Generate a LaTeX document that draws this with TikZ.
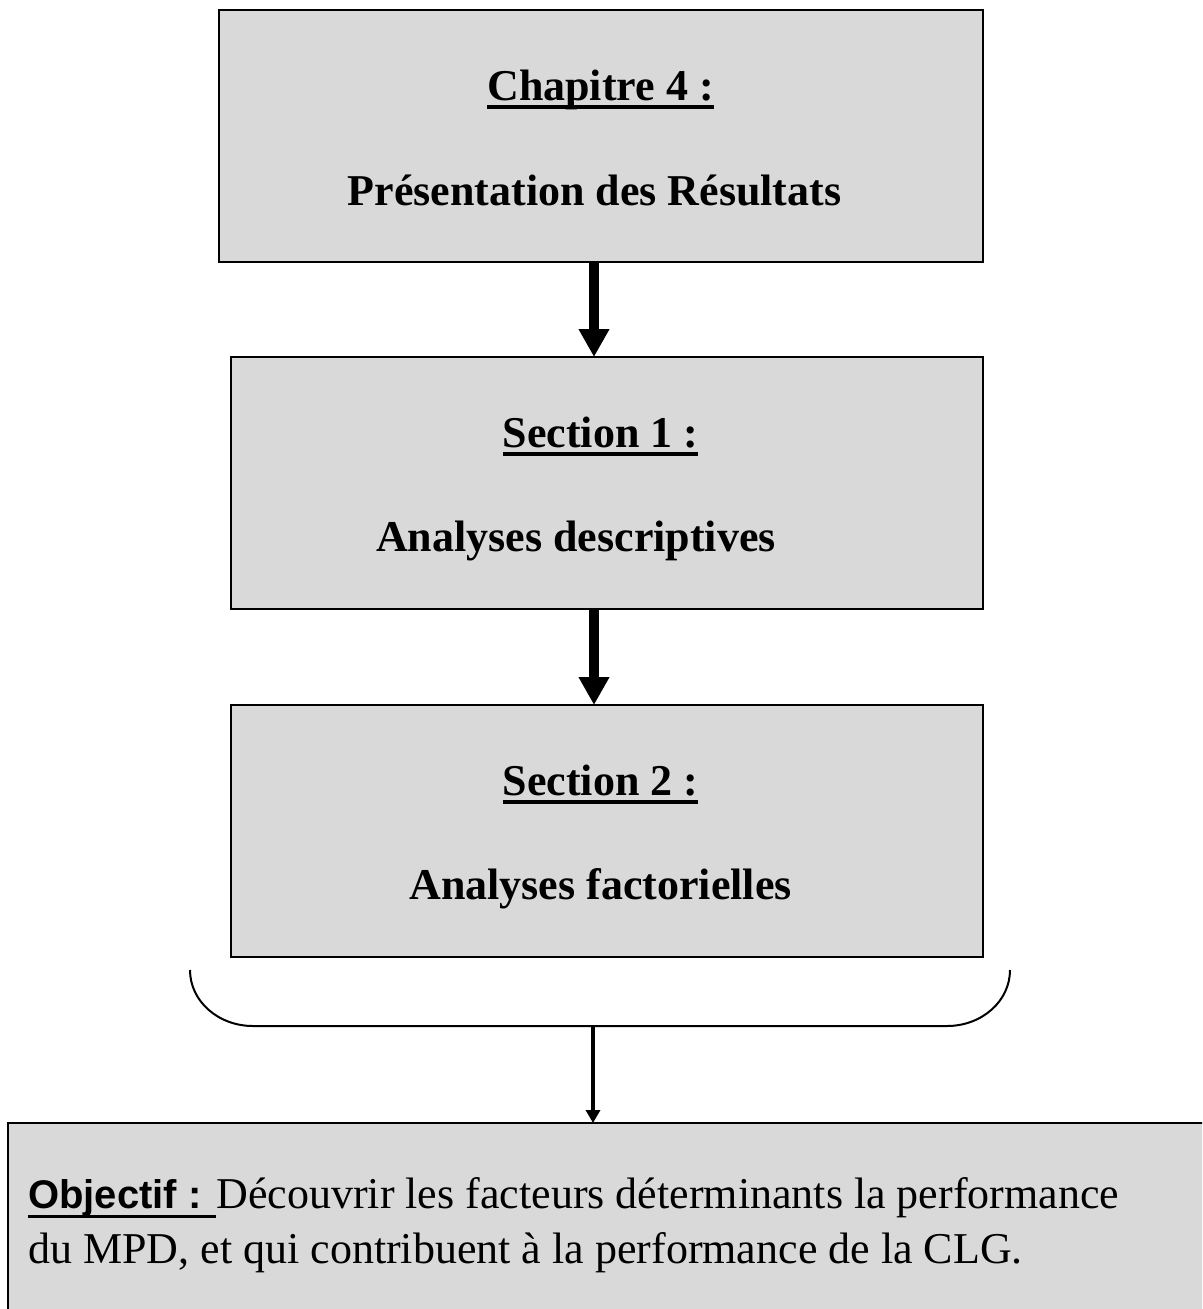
\documentclass[tikz,border=0pt]{standalone}
\usepackage{fontspec}
\setmainfont{Liberation Serif}
\newfontfamily\arialfont{Liberation Sans}
\usetikzlibrary{arrows.meta}
\definecolor{boxgray}{HTML}{D9D9D9}
\newcommand\hdul[1]{\setbox0\hbox{#1}\leavevmode\copy0\llap{\rule[-8.7pt]{\wd0}{4pt}}}
\newcommand\objul[1]{\setbox0\hbox{#1}\leavevmode\copy0\llap{\rule[-9.5pt]{\wd0}{3pt}}}
\tikzset{
  box/.style={draw=black, line width=2pt, fill=boxgray, inner sep=0pt, outer sep=0pt},
  hd/.style={anchor=base, inner sep=0pt, font=\fontsize{44}{53}\selectfont\bfseries},
  body/.style={anchor=base west, inner sep=0pt, font=\fontsize{44}{53}\selectfont},
  bigarrow/.style={line width=10pt, -{Triangle[width=29pt,length=28pt]}, shorten >=0pt},
  thinarrow/.style={line width=3.5pt, -{Triangle[width=14pt,length=13pt]}},
}
\begin{document}
\begin{tikzpicture}[x=1pt,y=-1pt]
\useasboundingbox (0,0) rectangle (1202,1309);
\clip (0,0) rectangle (1202,1309);
\fill[white] (0,0) rectangle (1202,1309);
% boxes
\node[box, minimum width=764pt, minimum height=252pt] (b1) at (601,136) {};
\node[box, minimum width=752pt, minimum height=252pt] (b2) at (607,483) {};
\node[box, minimum width=752pt, minimum height=252pt] (b3) at (607,831) {};
\node[box, minimum width=1214pt, minimum height=212pt] (b4) at (615,1229) {};
% texts
\node[hd] (t1) at (600.5,100) {\hdul{Chapitre 4 :}};
\node[hd] (t2) at (594.5,205) {Présentation des Résultats};
\node[hd] (t3) at (600.5,447) {\hdul{Section 1 :}};
\node[hd] (t4) at (576,551) {Analyses descriptives};
\node[hd] (t5) at (600.5,795) {\hdul{Section 2 :}};
\node[hd] (t6) at (600.5,899) {Analyses factorielles};
\node[body] (o1) at (28,1208) {{\arialfont\fontsize{40}{48}\selectfont\bfseries\objul{Objectif : }}Découvrir les facteurs déterminants la performance};
\node[body] (o2) at (28,1263) {du MPD, et qui contribuent à la performance de la CLG.};
% arrows
\coordinate (ax) at (594,0);
\draw[bigarrow] (b1.south -| ax) -- (b2.north -| ax);
\draw[bigarrow] (b2.south -| ax) -- (b3.north -| ax);
% brace
\draw[line width=2pt] (190,970) .. controls (190,1001) and (218,1026) .. (253,1026)
  -- (947,1026) .. controls (982,1026) and (1010,1001) .. (1010,970);
\coordinate (bm) at (593,1026);
\draw[thinarrow] (bm) -- (bm |- b4.north);
\end{tikzpicture}
\end{document}
